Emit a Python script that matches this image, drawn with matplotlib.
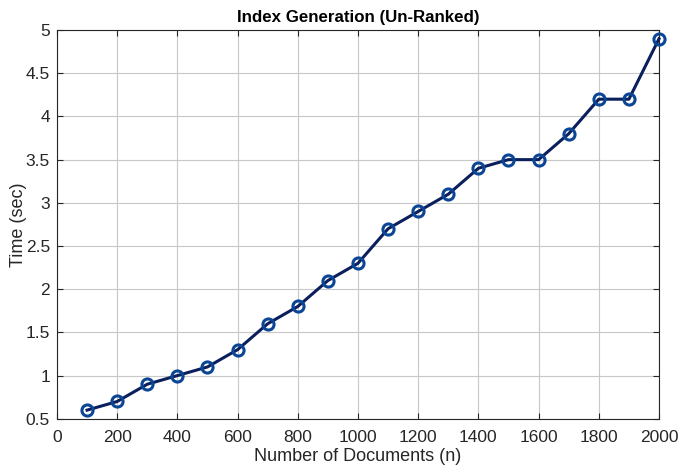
import matplotlib.pyplot as plt

docs = [100, 200, 300, 400, 500, 600, 700, 800, 900, 1000,
        1100, 1200, 1300, 1400, 1500, 1600, 1700, 1800, 1900, 2000]
times = [0.6, 0.7, 0.9, 1.0, 1.1, 1.3, 1.6, 1.8, 2.1, 2.3,
         2.7, 2.9, 3.1, 3.4, 3.5, 3.5, 3.8, 4.2, 4.2, 4.9]

plt.rcParams['font.family'] = ['Liberation Sans', 'DejaVu Sans']

fig = plt.figure(figsize=(6.78, 4.7), dpi=100)
ax = fig.add_axes([0.084, 0.109, 0.888, 0.827])

ax.plot(docs, times, color='#0a1f5c', lw=2.2, marker='o', ms=8,
        mfc='none', mec='#0b4595', mew=2.2, clip_on=False, zorder=3)

ax.set_xlim(0, 2000)
ax.set_ylim(0.5, 5)
ax.set_xticks(range(0, 2001, 200))
ax.set_yticks([0.5, 1, 1.5, 2, 2.5, 3, 3.5, 4, 4.5, 5])
ax.set_yticklabels(['0.5', '1', '1.5', '2', '2.5', '3', '3.5', '4', '4.5', '5'])
ax.grid(True, color='#c8c8c8', lw=0.8)
ax.set_axisbelow(True)
ax.tick_params(labelsize=12.5, direction='in', length=4, color='#262626',
               top=True, right=True, labelcolor='#262626')
ax.tick_params(axis='x', pad=8)
ax.tick_params(axis='y', pad=5)
for s in ax.spines.values():
    s.set_color('#262626')
    s.set_linewidth(0.8)

ax.set_title('Index Generation (Un-Ranked)', fontsize=12.2, fontweight='bold')
ax.set_xlabel('Number of Documents (n)', fontsize=13, color='#262626', labelpad=2)
ax.set_ylabel('Time (sec)', fontsize=13, color='#262626', labelpad=-1)

fig.savefig('out.png')
